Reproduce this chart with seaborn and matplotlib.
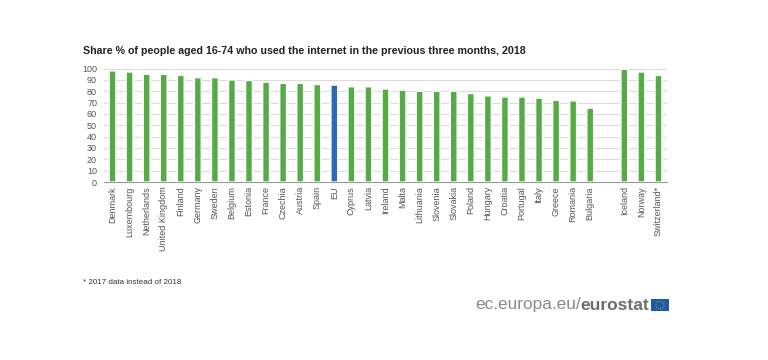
#!/usr/bin/env python3

import numpy as np
import pandas as pd
import matplotlib.pyplot as plt
from matplotlib.patches import Rectangle, Ellipse
import seaborn as sns

countries = ["Denmark", "Luxembourg", "Netherlands", "United Kingdom", "Finland", "Germany",
             "Sweden", "Belgium", "Estonia", "France", "Czechia", "Austria", "Spain", "EU",
             "Cyprus", "Latvia", "Ireland", "Malta", "Lithuania", "Slovenia", "Slovakia",
             "Poland", "Hungary", "Croatia", "Portugal", "Italy", "Greece", "Romania",
             "Bulgaria", " ", "Iceland", "Norway", "Switzerland*"]
shares = [98, 97, 95, 95, 94, 92, 92, 90, 89.5, 88, 87, 87, 86, 85.5, 84, 84, 82, 81, 80, 80, 80,
          78, 76, 75, 75, 74, 72, 71.5, 65, np.nan, 99.5, 97, 94]
groups = ["EU" if c == "EU" else "country" for c in countries]

GREEN = "#55ab45"
BLUE = "#2a6ab0"
GREY = "#555555"

sns.set_theme(style="white")
plt.rcParams['font.family'] = ['Liberation Sans', 'DejaVu Sans']

df = pd.DataFrame({"country": countries, "share": shares, "group": groups})

fig = plt.figure(figsize=(7.68, 3.6), dpi=100)
ax = fig.add_axes([104 / 768, 1 - 182 / 360, 563 / 768, 113.4 / 360])

sns.barplot(data=df, x="country", y="share", hue="group", dodge=False, legend=False,
            palette={"country": GREEN, "EU": BLUE}, width=0.4, saturation=1, ax=ax, zorder=3)
# keep all bars the same width instead of snapping to whole pixels
for bar in ax.patches:
    bar.set_snap(False)

ax.set_xlim(-0.5, 32.5)
ax.set_ylim(0, 100)
ax.set_yticks(range(0, 101, 10))
ax.set(xlabel="", ylabel="")
ax.grid(axis="y", color="#dcdcdc", lw=0.8, zorder=0)
ax.tick_params(axis="y", labelsize=6.5, labelcolor=GREY, length=0, pad=5)
ax.tick_params(axis="x", labelsize=6.5, labelcolor=GREY, length=0, pad=3, rotation=90)
sns.despine(ax=ax, left=True)
ax.spines["bottom"].set_color("#999999")
ax.spines["bottom"].set_linewidth(0.8)

fig.text(83 / 768, 1 - 51 / 360, "Share % of people aged 16-74 who used the internet in the previous three months, 2018",
         fontsize=7.65, fontweight="bold", color="#222222", va="center")
fig.text(83 / 768, 1 - 282 / 360, "* 2017 data instead of 2018", fontsize=5.8, color="#333333", va="center")

# eurostat logo, as text plus a small flag
logo = fig.text(475 / 768, 1 - 305 / 360, "ec.europa.eu/", fontsize=12.4, color="#8a8a8a", va="center")
fig.canvas.draw()
box = logo.get_window_extent()
fig.text(box.x1 / 768, 1 - 305 / 360, "eurostat", fontsize=12.5, fontweight="bold", color="#6e6e6e", va="center")
fig.add_artist(Rectangle((651 / 768, 1 - 311 / 360), 18 / 768, 12 / 360, transform=fig.transFigure,
                         facecolor="#1f5aa6", edgecolor="none"))
fig.add_artist(Ellipse((660 / 768, 1 - 305 / 360), 8 / 768, 8 / 360, transform=fig.transFigure,
                       facecolor="none", edgecolor="#b5a83c", lw=0.7, ls=":"))

fig.savefig("out.png", dpi=100)
plt.close()
